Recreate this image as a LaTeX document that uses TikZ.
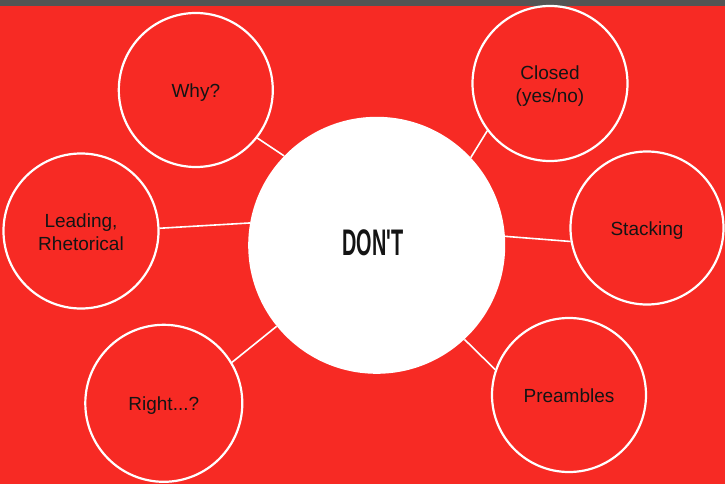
\documentclass[tikz,border=0pt]{standalone}
\usepackage{fontspec}
\setmainfont{Liberation Sans}
\newfontfamily\hubfont{Liberation Sans}[Ligatures=TeXOff]
\definecolor{dntRed}{HTML}{F72A24}
\definecolor{dntBar}{HTML}{545454}
\definecolor{dntInk}{HTML}{141414}
\newcommand\dntlift[1]{\rule{0pt}{#1}}
\tikzset{
  dnt hub/.style={circle, fill=white, inner sep=0pt, minimum size=257pt, text=dntInk, text depth=4.6pt},
  dnt bubble/.style={circle, draw=white, fill=dntRed, line width=2.2pt, inner sep=0pt, align=center, text=dntInk, font=\fontsize{19}{23}\selectfont},
  dnt one/.style={dnt bubble, text height=16.6pt, text depth=1.8pt},
  dnt link/.style={draw=white, line width=1.6pt},
}
\begin{document}
\begin{tikzpicture}[x=1pt,y=-1pt]
  \fill[dntRed] (0,0) rectangle (725,484);
  \fill[dntBar] (0,0) rectangle (725,5.6);
  \useasboundingbox (0,0) rectangle (725,484);
  % centre
  \node[dnt hub] (dont) at (376.7,245.3) {\kern-8pt\hubfont\bfseries\fontsize{37}{37}\selectfont\scalebox{0.537}[1]{DON'T}};
  % questions to avoid
  \node[dnt one, minimum size=154pt] (why) at (195.8,90) {Why?};
  \node[dnt bubble, minimum size=155pt] (closed) at (550,83.5) {\dntlift{19.9pt}Closed\\(yes/no)};
  \node[dnt bubble, minimum size=155pt] (leading) at (81,231) {\dntlift{16.9pt}Leading,\\Rhetorical};
  \node[dnt one, minimum size=153pt] (stacking) at (647,228) {Stacking};
  \node[dnt one, minimum size=157pt] (right) at (163.8,403.3) {Right...?};
  \node[dnt one, minimum size=154pt] (preambles) at (569,395) {Preambles};
  \foreach \n/\a/\b in {why/136/-38.1, closed/43.2/217.6, stacking/4.9/190.1, leading/170.2/2.2, right/219.3/31.3, preambles/-47.5/161.8}
    \draw[dnt link] (dont.\a) -- (\n.\b);
\end{tikzpicture}
\end{document}
